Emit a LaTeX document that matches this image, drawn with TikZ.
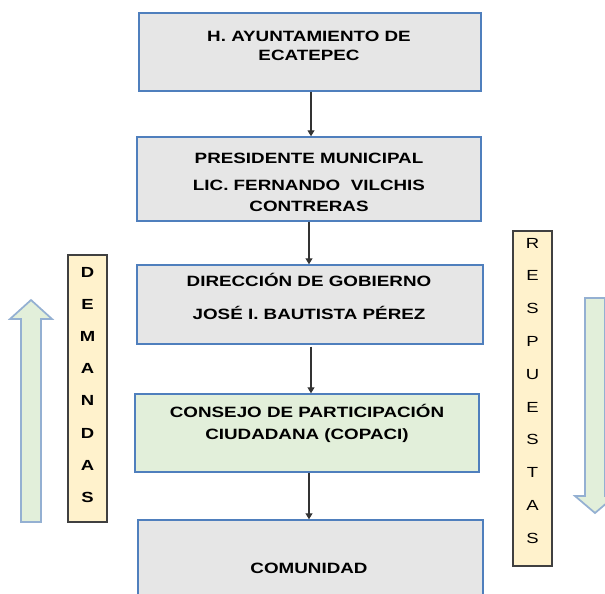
\documentclass[tikz,border=0pt]{standalone}
\usepackage{fontspec}
\setmainfont{Liberation Sans}[FakeStretch=1.26]
\usetikzlibrary{arrows.meta,fit}
\definecolor{boxgray}{HTML}{E6E6E6}
\definecolor{boxline}{HTML}{4F7FBD}
\definecolor{boxgreen}{HTML}{E2EFDA}
\definecolor{sidefill}{HTML}{FFF2CC}
\definecolor{sideline}{HTML}{404040}
\definecolor{arrowline}{HTML}{94B0D2}
\definecolor{connline}{HTML}{333333}
\begin{document}
\begin{tikzpicture}[x=0.75pt,y=-0.75pt,
  orgbox/.style={draw=boxline,line width=1.1pt,fill=boxgray,inner sep=0pt},
  greenbox/.style={orgbox,fill=boxgreen},
  sidebox/.style={draw=sideline,line width=1pt,fill=sidefill,inner sep=0pt},
  txt/.style={anchor=base,inner sep=0pt,font=\fontsize{11.2}{13}\selectfont\bfseries},
  letterb/.style={anchor=base,inner sep=0pt,font=\fontsize{11}{13}\selectfont\bfseries},
  letterr/.style={anchor=base,inner sep=0pt,font=\fontsize{11}{13}\selectfont},
  conn/.style={draw=connline,line width=0.8pt,-{Triangle[width=5.25pt,length=4.5pt]}},
  blockarrow/.style={draw=arrowline,line width=1.3pt,fill=boxgreen,line join=miter}]
\useasboundingbox (0,0) rectangle (605,593);
\clip (0,0) rectangle (605,593);

% boxes
\node[orgbox,fit={(139,13) (481,91)}] (b1) {};
\node[orgbox,fit={(137,137) (481,221)}] (b2) {};
\node[orgbox,fit={(137,265) (483,344)}] (b3) {};
\node[greenbox,fit={(135,394) (479,472)}] (b4) {};
\node[orgbox,fit={(138,520) (483,625)}] (b5) {};

% texts
\node[txt] (t1a) at (309,41) {H. AYUNTAMIENTO DE};
\node[txt] (t1b) at (309,60) {ECATEPEC};
\node[txt] (t2a) at (309,163.5) {PRESIDENTE MUNICIPAL};
\node[txt] (t2b) at (309,190.5) {LIC. FERNANDO\ \ VILCHIS};
\node[txt] (t2c) at (309,211.5) {CONTRERAS};
\node[txt] (t3a) at (309,286.5) {DIRECCIÓN DE GOBIERNO};
\node[txt] (t3b) at (309,319.5) {JOSÉ I. BAUTISTA PÉREZ};
\node[txt] (t4a) at (307,417.5) {CONSEJO DE PARTICIPACIÓN};
\node[txt] (t4b) at (307,439.5) {CIUDADANA (COPACI)};
\node[txt] (t5) at (309,573.5) {COMUNIDAD};

% connectors
\draw[conn] ([xshift=0.75pt]b1.south) -- ([xshift=0.75pt]b1.south |- b2.north);
\draw[conn] (b2.south) -- (b2.south |- b3.north);
\draw[conn] ([xshift=0.75pt,yshift=-1.5pt]b3.south) -- ([xshift=0.75pt]b3.south |- b4.north);
\draw[conn] ([xshift=1.5pt]b4.south) -- ([xshift=1.5pt]b4.south |- b5.north);

% side boxes
\node[sidebox,fit={(68,255) (107,522)}] (dem) {};
\foreach \ch [count=\i from 0] in {D,E,M,A,N,D,A,S}
  \node[letterb] (dem\i) at (87.5,{277.5+\i*32.1}) {\ch};
\node[sidebox,fit={(513,231) (552,566)}] (res) {};
\foreach \ch [count=\i from 0] in {R,E,S,P,U,E,S,T,A,S}
  \node[letterr] (res\i) at (532.5,{248+\i*32.8}) {\ch};

% block arrows
\draw[blockarrow] (21,522) -- (21,319) -- (10,319) -- (31,300) -- (52,319) -- (41,319) -- (41,522) -- cycle;
\draw[blockarrow] (585,298) -- (585,496) -- (575,496) -- (595,513) -- (615,496) -- (605,496) -- (605,298) -- cycle;
\end{tikzpicture}
\end{document}
